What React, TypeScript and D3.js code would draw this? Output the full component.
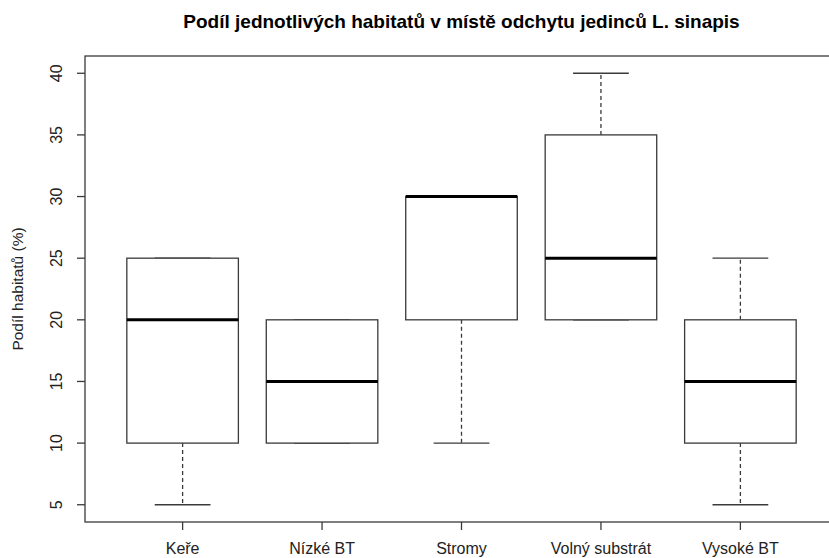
import React from "react";
import * as d3 from "d3";

// Habitat categories and their five-number summaries (%)
const categories = ["Keře", "Nízké BT", "Stromy", "Volný substrát", "Vysoké BT"];
const whiskerLow = [5, 10, 10, 20, 5];
const quartile1 = [10, 10, 20, 20, 10];
const medians = [20, 15, 30, 25, 15];
const quartile3 = [25, 20, 30, 35, 20];
const whiskerHigh = [25, 20, 30, 40, 25];
const yTicks = [5, 10, 15, 20, 25, 30, 35, 40];

const W = 829;
const H = 558;
const plot = { left: 85, right: 838, top: 56, bottom: 522 };
const FONT = "'Liberation Sans', Arial, Helvetica, sans-serif";

export default function App() {
  const n = categories.length;
  const x = d3.scaleLinear().domain([0.3, n + 0.7]).range([plot.left, plot.right]);
  const y = d3.scaleLinear().domain([3.6, 41.4]).range([plot.bottom, plot.top]);
  const boxHalf = x(1.4) - x(1);
  const capHalf = boxHalf / 2;
  const stroke = "#3a3a3a";

  return (
    <svg
      width={W}
      height={H}
      style={{ position: "absolute", left: 0, top: 0, display: "block", background: "#fff" }}
    >
      <text
        x={(plot.left + plot.right) / 2}
        y={28}
        textAnchor="middle"
        fontFamily={FONT}
        fontWeight="bold"
        fontSize={19}
        fill="#000"
      >
        Podíl jednotlivých habitatů v místě odchytu jedinců L. sinapis
      </text>

      {categories.map((c, i) => {
        const cx = x(i + 1);
        return (
          <g key={c}>
            {/* whiskers */}
            <line x1={cx} x2={cx} y1={y(quartile1[i])} y2={y(whiskerLow[i])} stroke={stroke} strokeWidth={1.3} strokeDasharray="4,3" />
            <line x1={cx} x2={cx} y1={y(quartile3[i])} y2={y(whiskerHigh[i])} stroke={stroke} strokeWidth={1.3} strokeDasharray="4,3" />
            <line x1={cx - capHalf} x2={cx + capHalf} y1={y(whiskerLow[i])} y2={y(whiskerLow[i])} stroke={stroke} strokeWidth={1.3} />
            <line x1={cx - capHalf} x2={cx + capHalf} y1={y(whiskerHigh[i])} y2={y(whiskerHigh[i])} stroke={stroke} strokeWidth={1.3} />
            {/* box */}
            <rect
              x={cx - boxHalf}
              y={y(quartile3[i])}
              width={boxHalf * 2}
              height={y(quartile1[i]) - y(quartile3[i])}
              fill="#fff"
              stroke={stroke}
              strokeWidth={1.3}
            />
            {/* median */}
            <line x1={cx - boxHalf} x2={cx + boxHalf} y1={y(medians[i])} y2={y(medians[i])} stroke="#000" strokeWidth={3} />
          </g>
        );
      })}

      {/* plot frame */}
      <rect
        x={plot.left}
        y={plot.top}
        width={plot.right - plot.left}
        height={plot.bottom - plot.top}
        fill="none"
        stroke={stroke}
        strokeWidth={1.3}
      />

      {/* y axis ticks */}
      {yTicks.map((t) => (
        <g key={t}>
          <line x1={plot.left - 8} x2={plot.left} y1={y(t)} y2={y(t)} stroke={stroke} strokeWidth={1.3} />
          <text
            transform={`translate(${62},${y(t)}) rotate(-90)`}
            textAnchor="middle"
            fontFamily={FONT}
            fontSize={16}
            fill="#222"
          >
            {t}
          </text>
        </g>
      ))}

      {/* x axis ticks */}
      {categories.map((c, i) => (
        <g key={c}>
          <line x1={x(i + 1)} x2={x(i + 1)} y1={plot.bottom} y2={plot.bottom + 8} stroke={stroke} strokeWidth={1.3} />
          <text x={x(i + 1)} y={554} textAnchor="middle" fontFamily={FONT} fontSize={16} fill="#222">
            {c}
          </text>
        </g>
      ))}

      <text
        transform={`translate(${23},${(plot.top + plot.bottom) / 2}) rotate(-90)`}
        textAnchor="middle"
        fontFamily={FONT}
        fontSize={15.5}
        fill="#222"
      >
        Podíl habitatů (%)
      </text>
    </svg>
  );
}
